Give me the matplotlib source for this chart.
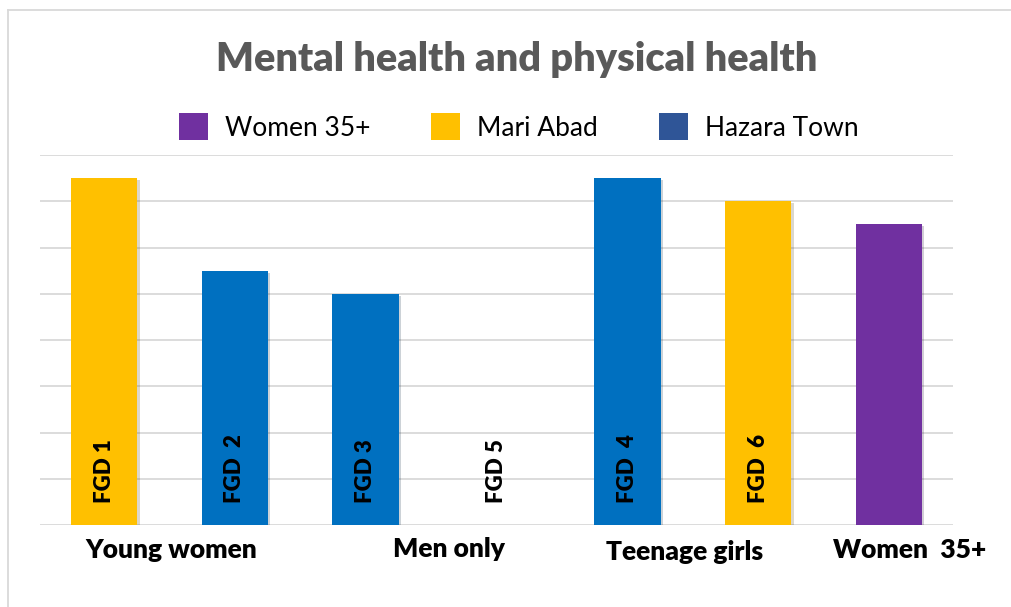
import matplotlib.pyplot as plt
from matplotlib.patches import Patch
from matplotlib.lines import Line2D
import matplotlib.patheffects as pe

# bar data (left to right)
bar_labels = ["FGD 1", "FGD  2", "FGD 3", "FGD 5", "FGD  4", "FGD  6", ""]
bar_values = [7.5, 5.5, 5.0, 0.0, 7.5, 7.0, 6.5]
bar_site = ["Mari Abad", "Hazara Town", "Hazara Town", "Hazara Town",
            "Hazara Town", "Mari Abad", "Women 35+"]

# group labels under the bars
group_labels = ["Young women", "Men only", "Teenage girls", "Women  35+"]
group_pos = [0.51, 2.64, 4.44, 6.16]
group_y = [-0.71, -0.69, -0.75, -0.71]

legend_names = ["Women 35+", "Mari Abad", "Hazara Town"]
legend_colors = ["#7030A0", "#FFC000", "#2F5597"]
bar_colors = {"Women 35+": "#7030A0", "Mari Abad": "#FFC000", "Hazara Town": "#0070C0"}

plt.rcParams['font.family'] = ['Lato', 'DejaVu Sans']

fig = plt.figure(figsize=(10.11, 6.07), dpi=100)
ax = fig.add_axes([40/1011, 1-525/607, 913/1011, 370/607])

x = list(range(len(bar_values)))
bars = ax.bar(x, bar_values, width=0.51,
              color=[bar_colors[s] for s in bar_site], zorder=3)
for b in bars:
    b.set_path_effects([pe.SimplePatchShadow(offset=(1.5, -1.5), alpha=0.2), pe.Normal()])

for i, lab in enumerate(bar_labels):
    if lab:
        ax.text(i, 0.48, lab, rotation=90, ha='center', va='bottom',
                fontsize=16, fontweight='heavy', color='black', zorder=4)

for lab, gx, gy in zip(group_labels, group_pos, group_y):
    ax.text(gx, gy, lab, ha='center', va='baseline', fontsize=19,
            fontweight='heavy', color='black', clip_on=False)

ax.set_xlim(-0.49, 6.49)
ax.set_ylim(0, 8)
ax.set_yticks(range(0, 9))
ax.yaxis.grid(True, color='#D9D9D9', linewidth=1.3, zorder=0)
ax.set_xticks([])
ax.tick_params(left=False, labelleft=False)
for s in ax.spines.values():
    s.set_visible(False)

fig.text(0.511, 1-71/607, "Mental health and physical health", ha='center',
         va='baseline', fontsize=28.5, fontweight='heavy', color='#595959')

handles = [Patch(facecolor=c, edgecolor='none') for c in legend_colors]
fig.legend(handles, legend_names, loc='center', bbox_to_anchor=(0.513, 1-127/607),
           ncol=3, frameon=False, fontsize=19, handlelength=1.1, handleheight=1.15,
           handletextpad=0.65, columnspacing=2.3)

# chart area border
fig.add_artist(Line2D([8/1011, 8/1011], [0, 1-10/607], color='#D9D9D9', lw=1.3))
fig.add_artist(Line2D([8/1011, 1], [1-10/607, 1-10/607], color='#D9D9D9', lw=1.3))

fig.savefig("out.png", dpi=100)
